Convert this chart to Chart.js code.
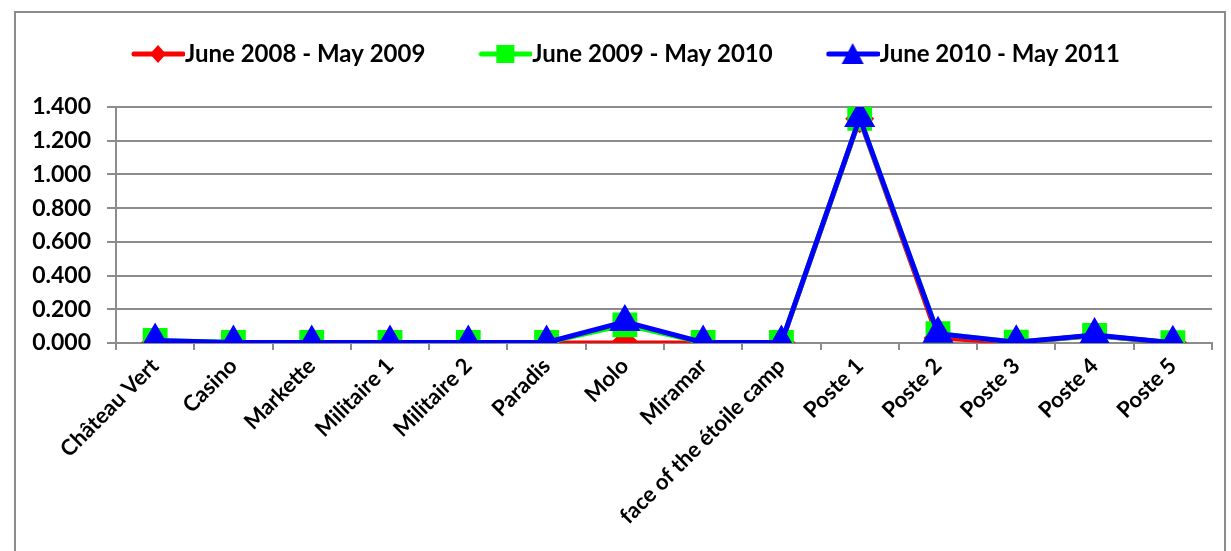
<!DOCTYPE html>
<html>
<head>
<meta charset="utf-8">
<script src="https://cdn.jsdelivr.net/npm/chart.js@4/dist/chart.umd.min.js"></script>
<style>
	html, body { margin: 0; padding: 0; background: #fff; }
	#wrap { position: relative; width: 1231px; height: 551px; }
</style>
</head>
<body>
<div id="wrap"><canvas id="chart" width="1231" height="551"></canvas></div>
<script>
const categories = ['Château Vert', 'Casino', 'Markette', 'Militaire 1', 'Militaire 2', 'Paradis', 'Molo',
	'Miramar', 'face of the étoile camp', 'Poste 1', 'Poste 2', 'Poste 3', 'Poste 4', 'Poste 5'];
const series2008 = [0.000, 0.000, 0.000, 0.000, 0.000, 0.000, 0.000, 0.000, 0.000, 1.330, 0.030, 0.003, 0.045, 0.000];
const series2009 = [0.015, 0.003, 0.003, 0.003, 0.003, 0.003, 0.108, 0.003, 0.003, 1.332, 0.055, 0.005, 0.045, 0.002];
const series2010 = [0.015, 0.003, 0.003, 0.003, 0.003, 0.003, 0.125, 0.003, 0.003, 1.335, 0.055, 0.005, 0.047, 0.002];
const yTicks = [0, 0.2, 0.4, 0.6, 0.8, 1.0, 1.2, 1.4];

const FONT = 'Lato, "Liberation Sans", Arial, sans-serif';

// legend swatch: line with the marker on it, sized so it reaches the label text
function swatch(color, shape) {
	const c = document.createElement('canvas');
	c.width = 54; c.height = 24;
	const g = c.getContext('2d');
	g.strokeStyle = color; g.fillStyle = color; g.lineWidth = 5; g.lineCap = 'round';
	g.beginPath(); g.moveTo(3, 12); g.lineTo(52, 12); g.stroke();
	g.beginPath();
	if (shape === 'diamond') { g.moveTo(27, 3); g.lineTo(35, 12); g.lineTo(27, 21); g.lineTo(19, 12); }
	else if (shape === 'square') { g.rect(18, 3, 18, 18); }
	else { g.moveTo(27, 1); g.lineTo(38, 22); g.lineTo(16, 22); }
	g.closePath(); g.fill();
	return c;
}

const frame = {
	id: 'frame',
	beforeDraw(chart) {
		const ctx = chart.ctx;
		ctx.save();
		ctx.strokeStyle = '#8c8c8c';
		ctx.lineWidth = 2;
		ctx.strokeRect(15, 12, 1210, 560);
		ctx.restore();
	}
};

// nudge the legend box into place after layout
const legendShift = {
	id: 'legendShift',
	afterLayout(chart) {
		const lg = chart.legend;
		lg.left += 12; lg.right += 12;
		lg.top -= 31; lg.bottom -= 31;
	}
};

new Chart(document.getElementById('chart'), {
	type: 'line',
	data: {
		labels: categories,
		datasets: [{
			label: 'June 2008 - May 2009',
			data: series2008,
			borderColor: '#ff0000',
			backgroundColor: '#ff0000',
			pointStyle: 'rectRot',
			pointRadius: 11,
			borderWidth: 5,
			order: 3
		}, {
			label: 'June 2009 - May 2010',
			data: series2009,
			borderColor: '#00ff00',
			backgroundColor: '#00ff00',
			pointStyle: 'rect',
			pointRadius: 14,
			borderWidth: 5,
			order: 2
		}, {
			label: 'June 2010 - May 2011',
			data: series2010,
			borderColor: '#0000ff',
			backgroundColor: '#0000ff',
			pointStyle: 'triangle',
			pointRadius: 13,
			borderWidth: 5,
			order: 1
		}]
	},
	options: {
		responsive: false,
		animation: false,
		layout: { padding: { left: 24, right: 16, top: 8, bottom: 0 } },
		elements: { line: { tension: 0 }, point: { borderWidth: 0 } },
		plugins: {
			legend: {
				position: 'top',
				sort: (a, b) => a.datasetIndex - b.datasetIndex,
				labels: {
					usePointStyle: true,
					pointStyleWidth: 30,
					boxHeight: 24,
					padding: 65,
					color: '#000',
					font: { family: FONT, size: 24, weight: 'bold' },
					generateLabels(chart) {
						const shapes = ['diamond', 'square', 'triangle'];
						return chart.data.datasets.map((ds, i) => ({
							text: ds.label,
							datasetIndex: i,
							pointStyle: swatch(ds.borderColor, shapes[i]),
							fillStyle: ds.borderColor,
							strokeStyle: ds.borderColor,
							lineWidth: 0,
							fontColor: '#000',
							hidden: false
						}));
					}
				}
			},
			tooltip: { enabled: false }
		},
		scales: {
			x: {
				offset: true,
				afterFit: axis => { axis.height = 208; },
				grid: { offset: true, drawOnChartArea: false, color: '#8c8c8c', lineWidth: 2, tickLength: 7 },
				border: { color: '#8c8c8c', width: 2 },
				ticks: {
					color: '#000',
					maxRotation: 45,
					minRotation: 45,
					autoSkip: false,
					font: { family: FONT, size: 22, weight: 'bold' }
				}
			},
			y: {
				min: 0,
				max: 1.4,
				afterFit: axis => { axis.width = 92; },
				afterBuildTicks: axis => { axis.ticks = yTicks.map(v => ({ value: v })); },
				grid: { color: '#8c8c8c', lineWidth: 2, tickLength: 9 },
				border: { color: '#8c8c8c', width: 2 },
				ticks: {
					color: '#000',
					padding: 16,
					font: { family: FONT, size: 23, weight: 'bold' },
					callback: v => v.toFixed(3)
				}
			}
		}
	},
	plugins: [frame, legendShift]
});
</script>
</body>
</html>
